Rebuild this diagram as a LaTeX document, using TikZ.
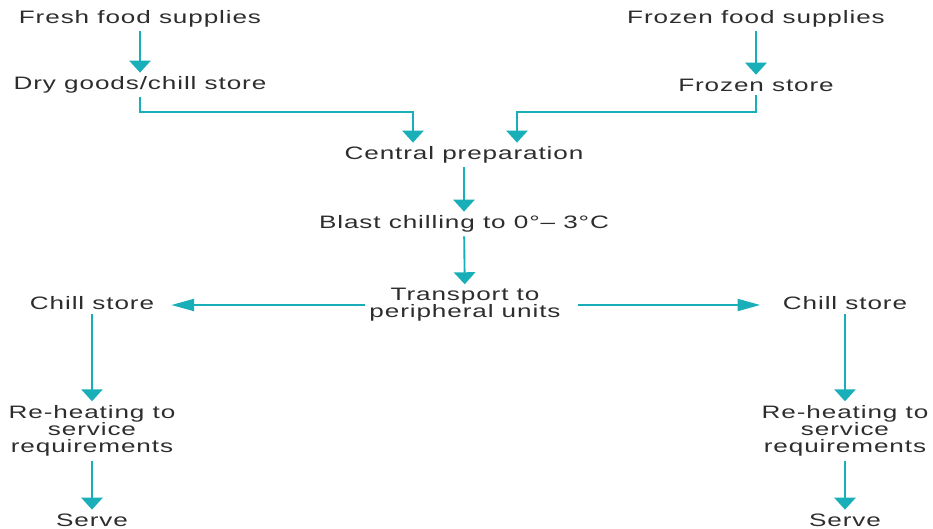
\documentclass[tikz,border=0pt]{standalone}
\usepackage{fontspec}
\setmainfont{Liberation Sans}[FakeStretch=1.45,LetterSpace=5]
\usetikzlibrary{arrows.meta}

\definecolor{flowteal}{RGB}{25,175,185}
\definecolor{labelgray}{RGB}{45,45,45}

\begin{document}
\begin{tikzpicture}[x=0.75pt, y=-0.75pt,
	stage/.style = {text = labelgray, font = \fontsize{13.5}{13}\selectfont,
		align = center, inner sep = 1pt, outer sep = 2pt},
	wire/.style = {flowteal, line width = 1.4pt},
	down/.style = {wire, -{Triangle[width = 16pt, length = 9pt]}},
	side/.style = {wire, -{Triangle[width = 9pt, length = 17pt]}}]

	\useasboundingbox (0, 0) rectangle (933, 529);

	% Supplies and stores

	\node [stage] (fresh) at (140, 19) {Fresh food supplies};
	\node [stage] (dry) at (140, 85) {Dry goods/chill store};
	\node [stage] (frozensup) at (756, 19) {Frozen food supplies};
	\node [stage] (frozen) at (756, 85) {Frozen store};

	% Central kitchen

	\node [stage] (central) at (464, 155) {Central preparation};
	\node [stage] (blast) at (464, 224) {Blast chilling to 0°– 3°C};
	\node [stage] (transport) at (465, 305) {Transport to\\peripheral units};

	% Peripheral units

	\node [stage] (chillL) at (92, 303) {Chill store};
	\node [stage] (reheatL) at (92, 431) {Re-heating to\\service\\requirements};
	\node [stage] (serveL) at (92, 520) {Serve};

	\node [stage] (chillR) at (845, 303) {Chill store};
	\node [stage] (reheatR) at (845, 431) {Re-heating to\\service\\requirements};
	\node [stage] (serveR) at (845, 520) {Serve};

	% Arrows

	\coordinate (joinL) at (413, 112);
	\coordinate (joinR) at (517, 112);

	\draw [down] (fresh) -- (dry);
	\draw [down] (frozensup) -- (frozen);
	\draw [down] (dry.south) |- (joinL) -- (joinL |- central.north);
	\draw [down] (frozen.south) |- (joinR) -- (joinR |- central.north);
	\draw [down] (central) -- (blast);
	\draw [down] (blast) -- (transport);

	\draw [side, shorten >= 10pt] (transport.west) -- (chillL.east |- transport.west);
	\draw [side, shorten <= 10pt, shorten >= 14pt] (transport.east) -- (chillR.west |- transport.east);

	\draw [down] (chillL) -- (reheatL);
	\draw [down] (reheatL) -- (serveL);
	\draw [down] (chillR) -- (reheatR);
	\draw [down] (reheatR) -- (serveR);

\end{tikzpicture}
\end{document}
